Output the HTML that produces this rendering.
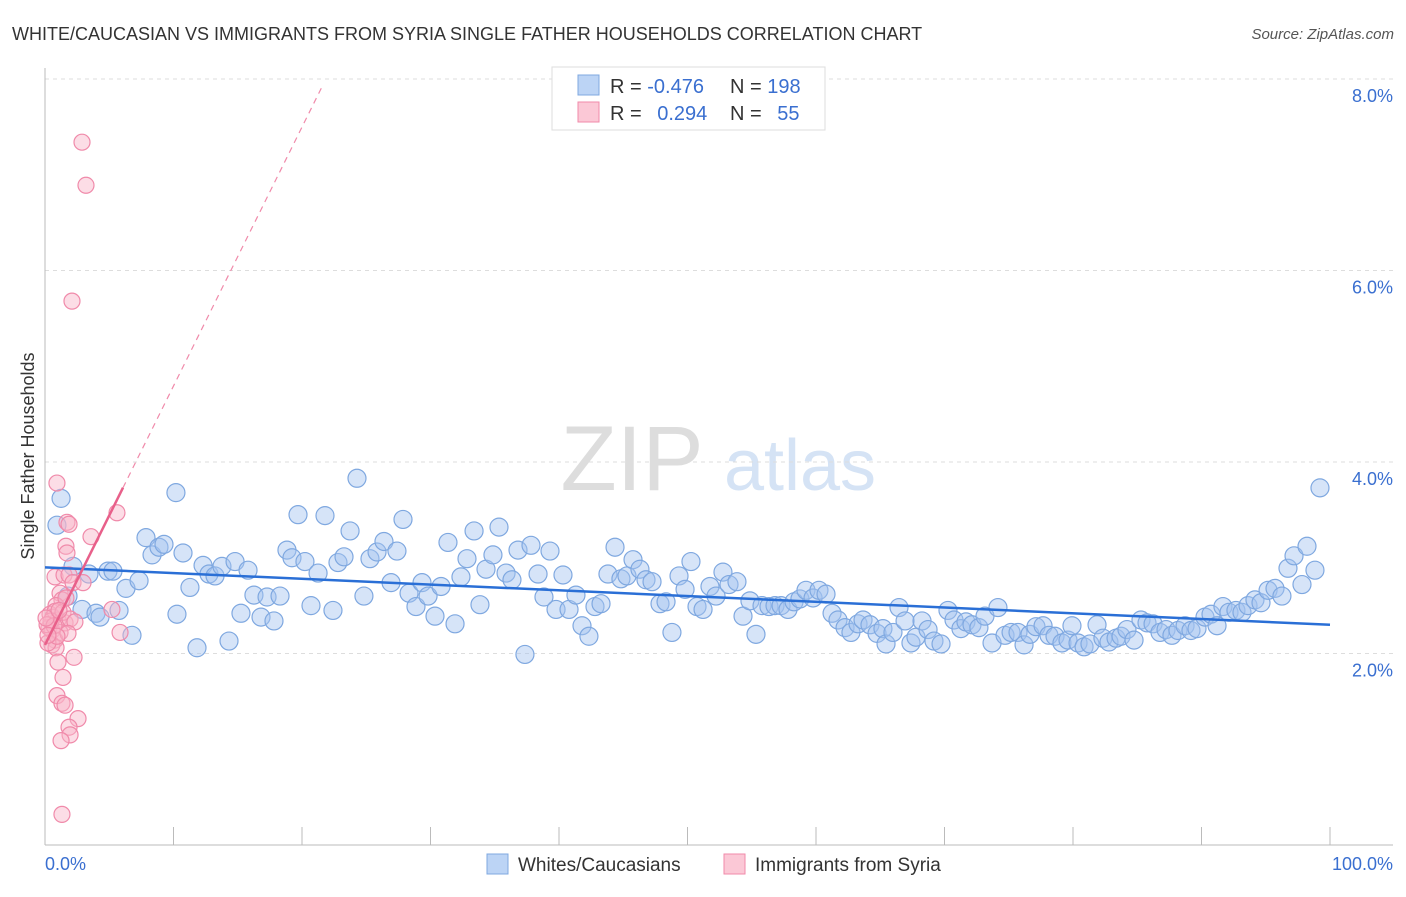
<!DOCTYPE html>
<html><head><meta charset="utf-8"><style>
body{margin:0;background:#fff;font-family:"Liberation Sans",sans-serif}
svg text{font-family:"Liberation Sans",sans-serif}
</style></head><body>
<svg id="chart" width="1406" height="892" xmlns="http://www.w3.org/2000/svg">
<text x="12" y="40" font-size="18" fill="#333">WHITE/CAUCASIAN VS IMMIGRANTS FROM SYRIA SINGLE FATHER HOUSEHOLDS CORRELATION CHART</text>
<text x="1394" y="39" font-size="15" fill="#555" font-style="italic" text-anchor="end">Source: ZipAtlas.com</text>
<g>
<text x="632" y="490" font-size="92" fill="#ddd" font-family="Liberation Serif" text-anchor="middle" font-family="Liberation Serif">ZIP</text>
<text x="800" y="490" font-size="72" fill="#d5e3f5" text-anchor="middle">atlas</text>
</g>
<g id="grid"></g><g id="axes"></g><g id="marks"></g>
<text transform="translate(34,456) rotate(-90)" font-size="18" fill="#333" text-anchor="middle">Single Father Households</text>
<g>
<rect x="552" y="67" width="273" height="63" fill="#fff" stroke="#ddd"/>
<rect x="578" y="75" width="21" height="20" fill="#bcd4f5" stroke="#7fa8e0"/>
<rect x="578" y="102" width="21" height="20" fill="#fbc8d6" stroke="#f08aaa"/>
<text x="610" y="93" font-size="20" fill="#333">R = <tspan fill="#3a6fd0">-0.476</tspan></text>
<text x="730" y="93" font-size="20" fill="#333">N = <tspan fill="#3a6fd0">198</tspan></text>
<text x="610" y="120" font-size="20" fill="#333">R = <tspan fill="#3a6fd0" dx="10">0.294</tspan></text>
<text x="730" y="120" font-size="20" fill="#333">N = <tspan fill="#3a6fd0" dx="10">55</tspan></text>
</g>
<g>
<rect x="487" y="854" width="21" height="20" fill="#bcd4f5" stroke="#7fa8e0"/>
<text x="518" y="871" font-size="19" fill="#333">Whites/Caucasians</text>
<rect x="724" y="854" width="21" height="20" fill="#fbc8d6" stroke="#f08aaa"/>
<text x="755" y="871" font-size="19" fill="#333">Immigrants from Syria</text>
</g>
</svg>
<script>
const yTicks=[2,4,6,8];
const yTickLabels=["2.0%","4.0%","6.0%","8.0%"];
const xTickLabels=["0.0%","100.0%"];
const blueX=[1.25,0.93,2.18,1.79,2.88,3.42,3.97,4.28,4.90,5.29,5.76,6.30,6.77,7.32,7.86,8.33,8.87,9.26,10.19,10.27,10.74,11.28,11.83,12.30,12.76,13.23,13.77,14.32,14.79,15.25,15.80,16.26,16.81,17.28,17.82,18.29,18.83,19.22,19.69,20.23,20.70,21.25,21.79,22.41,22.80,23.27,23.74,24.28,24.82,25.29,25.84,26.38,26.93,27.39,27.86,28.33,28.87,29.34,29.81,30.35,30.82,31.36,31.91,32.37,32.84,33.39,33.85,34.32,34.86,35.33,35.88,36.34,36.81,37.35,37.82,38.37,38.83,39.30,39.77,40.31,40.78,41.32,41.79,42.33,42.80,43.27,43.81,44.36,44.82,45.29,45.76,46.30,46.77,47.24,47.86,48.33,48.79,49.34,49.81,50.27,50.74,51.21,51.75,52.22,52.76,53.23,53.85,54.32,54.86,55.33,55.80,56.34,56.81,57.28,57.82,58.29,58.75,59.22,59.77,60.23,60.78,61.25,61.71,62.26,62.72,63.27,63.66,64.20,64.75,65.21,65.45,65.99,66.46,66.93,67.39,67.78,68.25,68.72,69.18,69.73,70.27,70.74,71.28,71.67,72.14,72.68,73.15,73.70,74.16,74.71,75.18,75.72,76.19,76.65,77.12,77.67,78.13,78.60,79.14,79.61,79.92,80.39,80.86,81.32,81.87,82.33,82.80,83.35,83.74,84.20,84.75,85.29,85.76,86.23,86.77,87.24,87.70,88.17,88.72,89.18,89.65,90.27,90.74,91.21,91.67,92.14,92.68,93.15,93.62,94.16,94.63,95.18,95.72,96.26,96.73,97.20,97.82,98.21,98.83,99.22];
const blueY=[3.62,3.34,2.91,2.60,2.46,2.83,2.42,2.38,2.86,2.86,2.45,2.68,2.19,2.76,3.21,3.03,3.11,3.14,3.68,2.41,3.05,2.69,2.06,2.92,2.83,2.81,2.91,2.13,2.96,2.42,2.87,2.61,2.38,2.59,2.34,2.60,3.08,3.00,3.45,2.96,2.50,2.84,3.44,2.45,2.95,3.01,3.28,3.83,2.60,2.99,3.06,3.17,2.74,3.07,3.40,2.63,2.49,2.74,2.60,2.39,2.70,3.16,2.31,2.80,2.99,3.28,2.51,2.88,3.03,3.32,2.84,2.77,3.08,1.99,3.13,2.83,2.59,3.07,2.46,2.82,2.46,2.61,2.29,2.18,2.49,2.52,2.83,3.11,2.78,2.81,2.98,2.88,2.77,2.75,2.52,2.54,2.22,2.81,2.67,2.96,2.49,2.46,2.70,2.60,2.85,2.72,2.75,2.39,2.55,2.20,2.50,2.49,2.50,2.50,2.46,2.54,2.57,2.66,2.58,2.66,2.62,2.42,2.35,2.27,2.22,2.31,2.35,2.30,2.21,2.26,2.10,2.22,2.48,2.34,2.11,2.17,2.34,2.25,2.13,2.10,2.45,2.35,2.26,2.33,2.30,2.27,2.39,2.11,2.48,2.19,2.22,2.22,2.09,2.20,2.28,2.29,2.19,2.18,2.11,2.14,2.29,2.11,2.07,2.10,2.30,2.16,2.12,2.16,2.18,2.25,2.14,2.35,2.32,2.31,2.22,2.25,2.19,2.24,2.29,2.24,2.26,2.38,2.41,2.29,2.49,2.43,2.45,2.43,2.50,2.56,2.53,2.66,2.68,2.60,2.89,3.02,2.72,3.12,2.87,3.73];
const pinkX=[2.88,3.19,2.10,0.93,1.71,1.87,1.63,1.71,3.58,5.60,0.78,1.48,1.87,2.18,1.17,1.32,0.86,0.39,0.62,1.01,1.56,0.31,0.54,1.17,0.78,0.54,0.86,0.23,0.78,1.40,1.95,2.33,5.21,5.84,1.79,2.26,1.01,1.40,0.93,1.32,1.56,2.57,1.87,1.95,1.25,1.32,0.47,0.16,0.70,0.93,0.23,0.08,2.96,1.63,1.09];
const pinkY=[7.34,6.89,5.68,3.78,3.37,3.35,3.12,3.05,3.22,3.47,2.80,2.82,2.82,2.74,2.63,2.56,2.50,2.41,2.38,2.35,2.32,2.27,2.24,2.22,2.14,2.09,2.06,2.11,2.44,2.43,2.36,2.33,2.46,2.22,2.21,1.96,1.91,1.75,1.56,1.48,1.46,1.32,1.23,1.15,1.09,0.32,2.34,2.30,2.29,2.18,2.19,2.37,2.74,2.58,2.45];
const blueTrend=[2.90,2.30];
const pinkTrend={start:2.09,slope:0.2704,solidEnd:6.07,dashEnd:21.6};

const NS="http://www.w3.org/2000/svg";
const X=v=>45+v*12.85, Y=v=>845-v*95.75;
function mk(tag,attrs,parent){const e=document.createElementNS(NS,tag);for(const k in attrs)e.setAttribute(k,attrs[k]);parent.appendChild(e);return e;}
const grid=document.getElementById('grid'),axes=document.getElementById('axes'),marks=document.getElementById('marks');
yTicks.forEach((t,i)=>{
  const l=mk('line',{x1:45,x2:1393,y1:Y(t),y2:Y(t),stroke:'#ddd','stroke-dasharray':'4,4'},grid);
  
  
  const tx=mk('text',{x:1393,y:Y(t)+23,'font-size':18,fill:'#3a6fd0','text-anchor':'end'},axes);
  tx.textContent=yTickLabels[i];
  
  
});
const ax=mk('line',{x1:45,x2:1393,y1:845,y2:845,stroke:'#bbb'},axes);


const ay=mk('line',{x1:45,x2:45,y1:68,y2:845,stroke:'#bbb'},axes);


for(let i=0;i<=10;i++){
  const t=mk('line',{x1:X(i*10),x2:X(i*10),y1:827,y2:845,stroke:'#bbb'},axes);
  
  
}
[[0,'start'],[100,'end']].forEach((p,i)=>{
  const tx=mk('text',{x:i?1393:45,y:870,'font-size':18,fill:'#3a6fd0','text-anchor':p[1]},axes);
  tx.textContent=xTickLabels[i];
  
  
});
blueX.forEach((x,i)=>{
  const c=mk('circle',{cx:X(x),cy:Y(blueY[i]),r:9,fill:'rgba(164,196,240,0.45)',stroke:'#7fa8e0','stroke-width':1.2},marks);
  
  
});
pinkX.forEach((x,i)=>{
  const c=mk('circle',{cx:X(x),cy:Y(pinkY[i]),r:8,fill:'rgba(248,180,200,0.45)',stroke:'#f08aaa','stroke-width':1.2},marks);
  
  
});
const bl=mk('line',{x1:X(0),y1:Y(blueTrend[0]),x2:X(100),y2:Y(blueTrend[1]),stroke:'#2a6fd6','stroke-width':2.5},marks);


const pe=x=>pinkTrend.start+pinkTrend.slope*x;
const pd=mk('line',{x1:X(pinkTrend.solidEnd),y1:Y(pe(pinkTrend.solidEnd)),x2:X(pinkTrend.dashEnd),y2:Y(pe(pinkTrend.dashEnd)),stroke:'#f08aaa','stroke-width':1.2,'stroke-dasharray':'6,5'},marks);


const ps=mk('line',{x1:X(0),y1:Y(pe(0)),x2:X(pinkTrend.solidEnd),y2:Y(pe(pinkTrend.solidEnd)),stroke:'#e8608a','stroke-width':2.5},marks);


</script>
</body></html>
